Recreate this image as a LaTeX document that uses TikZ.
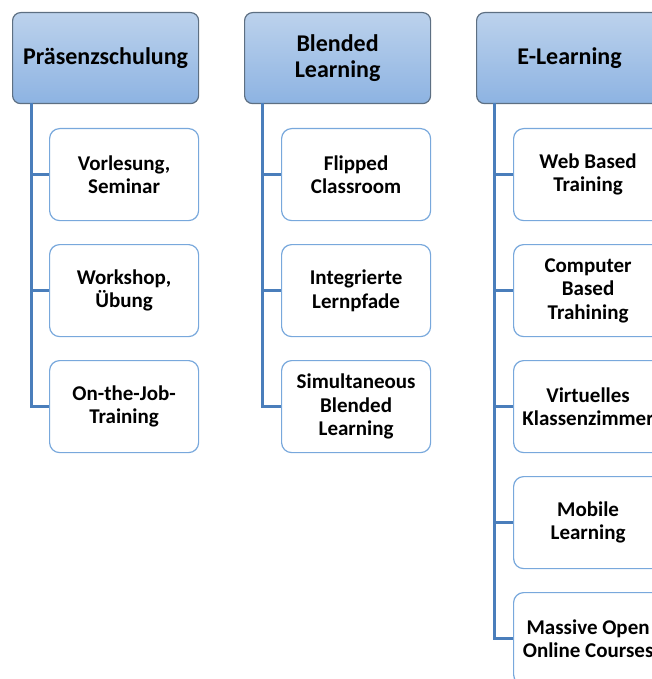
\documentclass[tikz,border=0pt]{standalone}
\usepackage{fontspec}
\setmainfont{Carlito}
\definecolor{headtop}{HTML}{BCD2EC}
\definecolor{headbot}{HTML}{8DB3E2}
\definecolor{headline}{HTML}{5D6F82}
\definecolor{boxline}{HTML}{78A8DC}
\definecolor{linkline}{HTML}{4A7EBB}
\tikzset{
  headbox/.style={draw=headline, line width=1.2pt, rounded corners=8pt,
    top color=headtop, bottom color=headbot, minimum width=186pt,
    minimum height=91pt, align=center, inner sep=2pt,
    font=\fontsize{24}{26}\selectfont\bfseries, anchor=north west},
  itembox/.style={draw=boxline, line width=1.2pt, rounded corners=10pt,
    fill=white, minimum width=149pt, minimum height=92pt, align=center,
    inner sep=2pt, font=\fontsize{21}{23.5}\selectfont\bfseries,
    anchor=north west},
  link/.style={draw=linkline, line width=3pt}
}
\begin{document}
\begin{tikzpicture}[x=1pt,y=-1pt]
\useasboundingbox (0,0) rectangle (652,679);
\clip (0,0) rectangle (652,679);

% column headers
\node[headbox] (h1) at (12,12) {Präsenzschulung};
\node[headbox] (h2) at (244,12) {Blended\\Learning};
\node[headbox] (h3) at (476,12) {E-Learning};

% trunk start points below each header
\coordinate (t1) at (31,103);
\coordinate (t2) at (262,103);
\coordinate (t3) at (494,103);

% Präsenzschulung
\node[itembox] (a1) at (49,128) {Vorlesung,\\Seminar};
\node[itembox] (a2) at (49,244) {Workshop,\\Übung};
\node[itembox] (a3) at (49,360) {On-the-Job-\\Training};

% Blended Learning
\node[itembox] (b1) at (281,128) {Flipped\\Classroom};
\node[itembox] (b2) at (281,244) {Integrierte\\Lernpfade};
\node[itembox] (b3) at (281,360) {Simultaneous\\Blended\\Learning};

% E-Learning
\node[itembox] (c1) at (513,128) {Web Based\\Training};
\node[itembox] (c2) at (513,244) {Computer\\Based\\Trahining};
\node[itembox] (c3) at (513,360) {Virtuelles\\Klassenzimmer};
\node[itembox] (c4) at (513,476) {Mobile\\Learning};
\node[itembox] (c5) at (513,592) {Massive Open\\Online Courses};

% connectors
\draw[link] (t1) |- (a3.west);
\draw[link] (t1) |- (a1.west) (t1) |- (a2.west);
\draw[link] (t2) |- (b3.west);
\draw[link] (t2) |- (b1.west) (t2) |- (b2.west);
\draw[link] (t3) |- (c5.west);
\draw[link] (t3) |- (c1.west) (t3) |- (c2.west) (t3) |- (c3.west) (t3) |- (c4.west);
\end{tikzpicture}
\end{document}
